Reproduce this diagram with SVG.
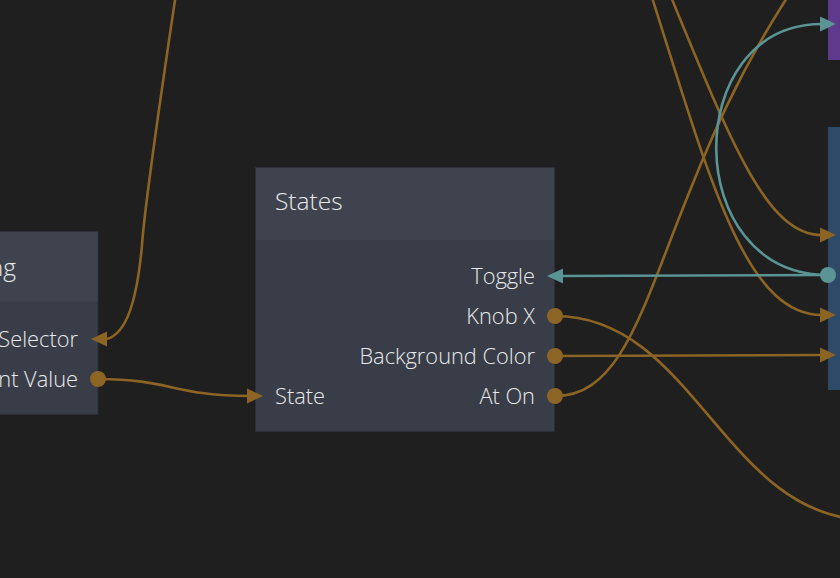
<svg xmlns="http://www.w3.org/2000/svg" width="840" height="578" viewBox="0 0 840 578">
<defs>
<style>
.bg{fill:#1f1f1f}
.body{fill:#393d47;stroke:#2c2f36;stroke-width:1}
.head{fill:#3f434e}
.title{font-family:"Open Sans","Liberation Sans",sans-serif;font-weight:300;font-size:24.5px;fill:#e8e9ec}
.lbl{font-family:"Open Sans","Liberation Sans",sans-serif;font-weight:300;font-size:21.8px;fill:#e8e9ec}
.r{text-anchor:end}
.gold{fill:none;stroke:#8c6424;stroke-width:2.6}
.teal{fill:none;stroke:#5a9494;stroke-width:2.6}
.gdot{fill:#8c6424}
.tdot{fill:#5a9494}
</style>
</defs>
<rect class="bg" x="0" y="0" width="840" height="578"/>

<g id="node-left">
<rect class="body" x="-20" y="231.5" width="118" height="183"/>
<rect class="head" x="-20" y="232" width="117.5" height="70"/>
<text class="title r" x="16" y="276">ng</text>
<text class="lbl r" x="78" y="347">Selector</text>
<text class="lbl r" x="78" y="387">nt Value</text>
</g>

<g id="node-states">
<rect class="body" x="255.5" y="167.5" width="299" height="264"/>
<rect class="head" x="256" y="168" width="298" height="72"/>
<text class="title" x="275" y="210">States</text>
<text class="lbl r" x="535" y="284">Toggle</text>
<text class="lbl r" x="535" y="324">Knob X</text>
<text class="lbl r" x="535" y="364">Background Color</text>
<text class="lbl r" x="535" y="404">At On</text>
<text class="lbl" x="275" y="404">State</text>
</g>

<g id="node-purple">
<rect x="828" y="0" width="14" height="60" fill="#5f3a8c"/>
</g>
<g id="node-blue">
<rect x="828" y="127" width="14" height="263" fill="#2f4a69"/>
</g>

<g id="connectors">
<path class="gold" d="M178,-20 S145,200 142,245 C137,300 127,333 107,339"/>
<path class="gold" d="M98,379 C170,379 175,396 249,396"/>
<path class="gold" d="M555,356 L822,355"/>
<path class="gold" d="M660,-30 C730,140 765,235 822,235"/>
<path class="gold" d="M640,-40 C705,160 740,315 822,315"/>
<path class="gold" d="M555,396 C660,396 650,180 820,-50"/>
<path class="gold" d="M555,316 C695,316 725,520 870,520"/>
<path class="teal" d="M828,275 L561,276"/>
<path class="teal" d="M828,275 C680,275 680,24 822,24"/>

<polygon class="gdot" points="91,339 107,331.5 107,346.5"/>
<circle class="gdot" cx="98" cy="379" r="8"/>
<polygon class="gdot" points="263,396 247,388.5 247,403.5"/>
<circle class="gdot" cx="555" cy="316" r="8"/>
<circle class="gdot" cx="555" cy="356" r="8"/>
<circle class="gdot" cx="555" cy="396" r="8"/>
<polygon class="tdot" points="547,276 563,268.5 563,283.5"/>
<polygon class="gdot" points="836,235 820,227.5 820,242.5"/>
<polygon class="gdot" points="836,315 820,307.5 820,322.5"/>
<polygon class="gdot" points="836,355 820,347.5 820,362.5"/>
<polygon class="tdot" points="836,24 820,16.5 820,31.5"/>
<circle class="tdot" cx="828" cy="275" r="8"/>
</g>
</svg>
